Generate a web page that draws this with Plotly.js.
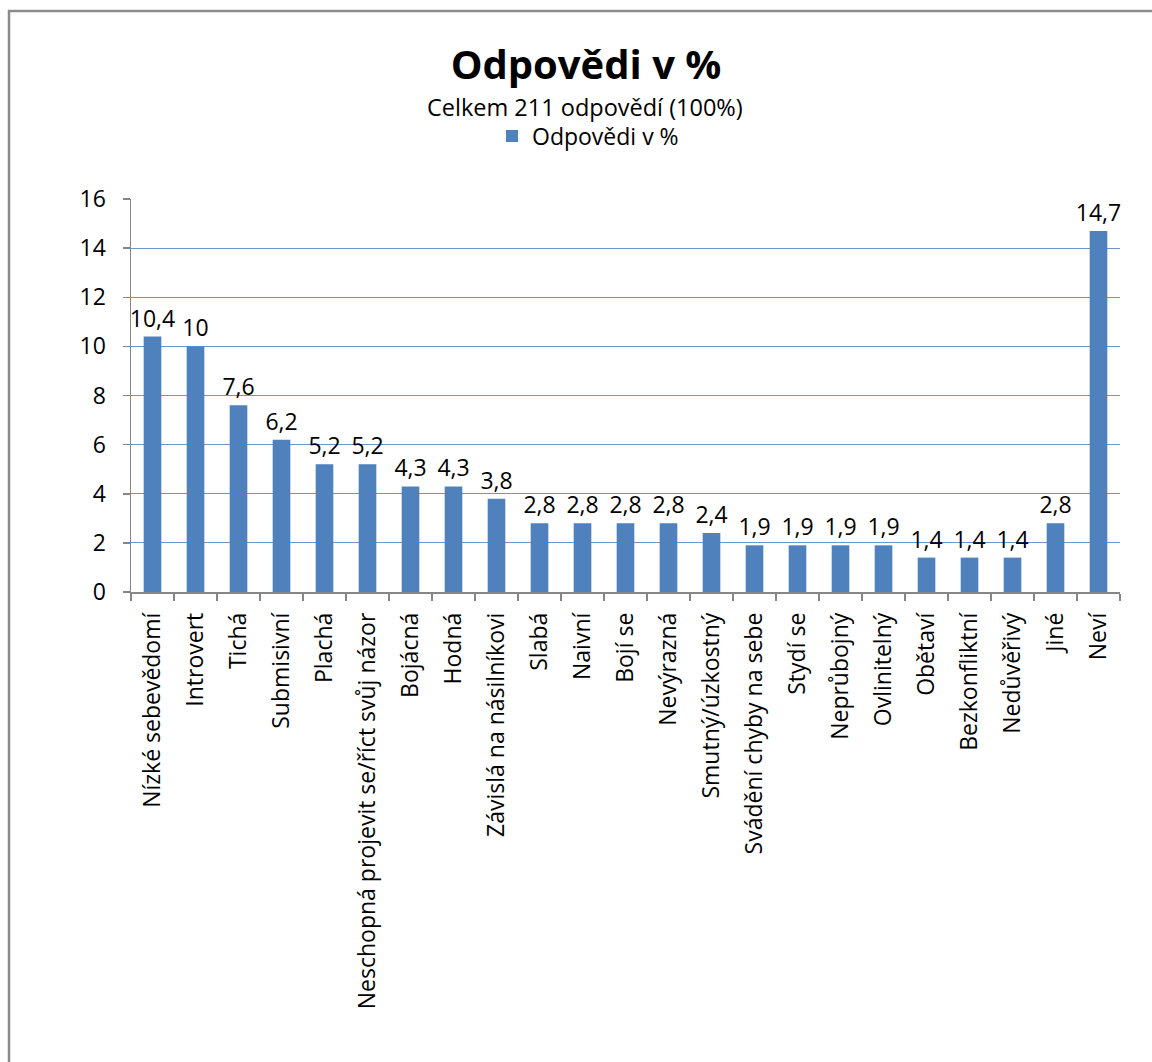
<!DOCTYPE html>
<html>
<head>
<meta charset="utf-8">
<script src="https://cdn.plot.ly/plotly-3.0.1.min.js"></script>
<style>html,body{margin:0;padding:0;background:#fff;}#chart{width:1152px;height:1062px;}</style>
</head>
<body>
<div id="chart"></div>
<script>
const categories = ["Nízké sebevědomí","Introvert","Tichá","Submisivní","Plachá","Neschopná projevit se/říct svůj názor","Bojácná","Hodná","Závislá na násilníkovi","Slabá","Naivní","Bojí se","Nevýrazná","Smutný/úzkostný","Svádění chyby na sebe","Stydí se","Neprůbojný","Ovlinitelný","Obětaví","Bezkonfliktní","Nedůvěřivý","Jiné","Neví"];
const values = [10.4,10,7.6,6.2,5.2,5.2,4.3,4.3,3.8,2.8,2.8,2.8,2.8,2.4,1.9,1.9,1.9,1.9,1.4,1.4,1.4,2.8,14.7];
const seriesName = "Odpovědi v %";
const titleText = "Odpovědi v %";
const subtitleText = "Celkem 211 odpovědí (100%)";
const yTicks = [0,2,4,6,8,10,12,14,16];

const labels = values.map(v => String(v).replace('.', ','));
const FONT = "'Open Sans', 'Noto Sans', sans-serif";

const L = 131, R = 1120, T = 199, B = 592;
const W = 1152, H = 1062;
const px = x => (x - L) / (R - L);
const py = y => (B - y) / (B - T);

const trace = {
  type: 'bar',
  x: categories,
  y: values,
  name: seriesName,
  text: labels,
  textposition: 'outside',
  constraintext: 'none',
  cliponaxis: false,
  textfont: {family: FONT, size: 23, color: '#000'},
  marker: {color: '#4F81BD', line: {width: 0}},
  hoverinfo: 'x+y'
};

const layout = {
  width: W, height: H,
  margin: {l: L, r: W - R, t: T, b: H - B, pad: 0},
  paper_bgcolor: '#fff', plot_bgcolor: '#fff',
  font: {family: FONT, color: '#000'},
  bargap: 0.59,
  showlegend: true,
  title: {
    text: '<b>' + titleText + '</b>',
    font: {family: FONT, size: 40, color: '#000'},
    xref: 'container', x: 586 / W, xanchor: 'center',
    yref: 'container', y: 1 - 65 / H, yanchor: 'middle'
  },
  legend: {
    orientation: 'h',
    xref: 'container', x: 588 / W, xanchor: 'center',
    yref: 'container', y: 1 - 136 / H, yanchor: 'middle',
    font: {family: FONT, size: 23, color: '#000'},
    bgcolor: 'rgba(0,0,0,0)'
  },
  xaxis: {
    type: 'category',
    tickangle: -90,
    ticks: 'outside', tickson: 'boundaries', ticklen: 7, tickwidth: 1.5, tickcolor: '#868686',
    ticklabelstandoff: 10,
    showline: true, linecolor: '#868686', linewidth: 1.5,
    showgrid: false, zeroline: false,
    tickfont: {family: FONT, size: 23, color: '#000'}
  },
  yaxis: {
    range: [0, 16],
    tickvals: yTicks,
    ticks: 'outside', ticklen: 7, tickwidth: 1.5, tickcolor: '#868686',
    ticklabelstandoff: 12,
    showline: true, linecolor: '#868686', linewidth: 1.5,
    showgrid: true, gridcolor: '#6F96C8', gridwidth: 1.2,
    zeroline: false,
    tickfont: {family: FONT, size: 23, color: '#000'}
  },
  annotations: [{
    text: subtitleText,
    xref: 'paper', yref: 'paper',
    x: px(585), y: py(107), xanchor: 'center', yanchor: 'middle',
    showarrow: false,
    font: {family: FONT, size: 23.5, color: '#000'}
  }],
  shapes: [{
    type: 'rect', xref: 'paper', yref: 'paper', layer: 'above',
    x0: px(9), x1: px(1170), y0: py(1100), y1: py(11),
    line: {color: '#8C8C8C', width: 2.5}, fillcolor: 'rgba(0,0,0,0)'
  }]
};

Plotly.newPlot('chart', [trace], layout, {displayModeBar: false, staticPlot: true});
</script>
</body>
</html>
